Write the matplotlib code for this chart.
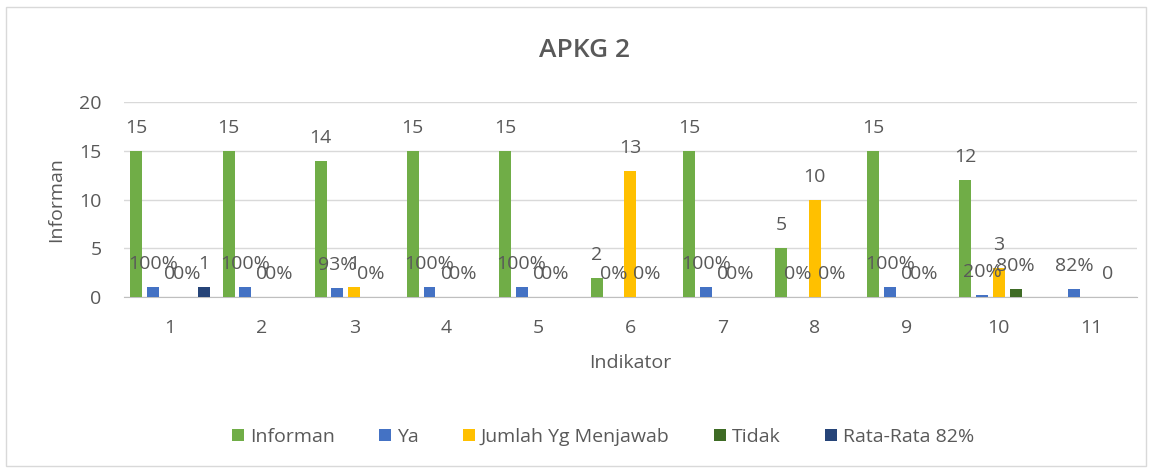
import matplotlib.pyplot as plt
import numpy as np
from matplotlib.patches import Rectangle

plt.rcParams['font.family'] = ['Open Sans', 'DejaVu Sans']

# data
indikator = ['1', '2', '3', '4', '5', '6', '7', '8', '9', '10', '11']
informan = [15, 15, 14, 15, 15, 2, 15, 5, 15, 12, np.nan]
ya = [1, 1, 0.93, 1, 1, 0, 1, 0, 1, 0.2, 0.82]
jumlah = [0, 0, 1, 0, 0, 13, 0, 10, 0, 3, np.nan]
tidak = [0, 0, 0, 0, 0, 0, 0, 0, 0, 0.8, 0]
rata = [1, np.nan, np.nan, np.nan, np.nan, np.nan, np.nan, np.nan, np.nan, np.nan, np.nan]

series = ['Informan', 'Ya', 'Jumlah Yg Menjawab', 'Tidak', 'Rata-Rata 82%']
colors = ['#70AD47', '#4472C4', '#FFC000', '#3E6B25', '#264478']
# label formats per series
fmts = ['num', 'pct', 'num', 'pct', 'num']
values = [informan, ya, jumlah, tidak, rata]

text_color = '#595959'

fig = plt.figure(figsize=(11.52, 4.68), dpi=100)
ax = fig.add_axes([0.1076, 0.3654, 0.8793, 0.4156])

x = np.arange(len(indikator))
step = 0.182
width = 0.13
for i, (name, vals, col, f) in enumerate(zip(series, values, colors, fmts)):
    pos = x + (i - 2) * step
    ax.bar(pos, vals, width=width, color=col, label=name, zorder=3)
    for p, v in zip(pos, vals):
        if np.isnan(v):
            continue
        if f == 'pct':
            lab = '%d%%' % round(v * 100)
        else:
            lab = '%g' % v
        # last "Tidak" label is shown as a plain number
        if i == 3 and p > 9.5:
            lab = '%g' % v
        ax.annotate(lab, (p, v), xytext=(0, 14), textcoords='offset pixels',
                    ha='center', va='bottom', fontsize=14, color=text_color, zorder=4)

ax.set_xlim(-0.5, len(indikator) - 0.5)
ax.set_ylim(0, 20)
ax.set_yticks([0, 5, 10, 15, 20])
ax.set_xticks(x)
ax.set_xticklabels(indikator)
ax.yaxis.grid(True, color='#D9D9D9', linewidth=1, zorder=0)
ax.tick_params(length=0, labelsize=14, labelcolor=text_color)
ax.tick_params(axis='x', pad=16)
ax.tick_params(axis='y', pad=16)
for s in ['top', 'right', 'left']:
    ax.spines[s].set_visible(False)
ax.spines['bottom'].set_color('#BFBFBF')

ax.set_ylabel('Informan', fontsize=14, color=text_color, labelpad=10)
ax.set_xlabel('Indikator', fontsize=14, color=text_color, labelpad=12)
fig.text(0.507, 0.893, 'APKG 2', ha='center', va='center', fontsize=19,
         fontweight='semibold', color=text_color)

ax.legend(loc='center', bbox_to_anchor=(0.473, -0.72), ncol=5, frameon=False,
          fontsize=14, labelcolor=text_color, handlelength=0.6, handleheight=0.6,
          handletextpad=0.3, columnspacing=2.3)

fig.patches.append(Rectangle((0.005, 0.004), 0.99, 0.98, transform=fig.transFigure,
                             fill=False, edgecolor='#D9D9D9', linewidth=1))

fig.savefig('out.png', dpi=100)
